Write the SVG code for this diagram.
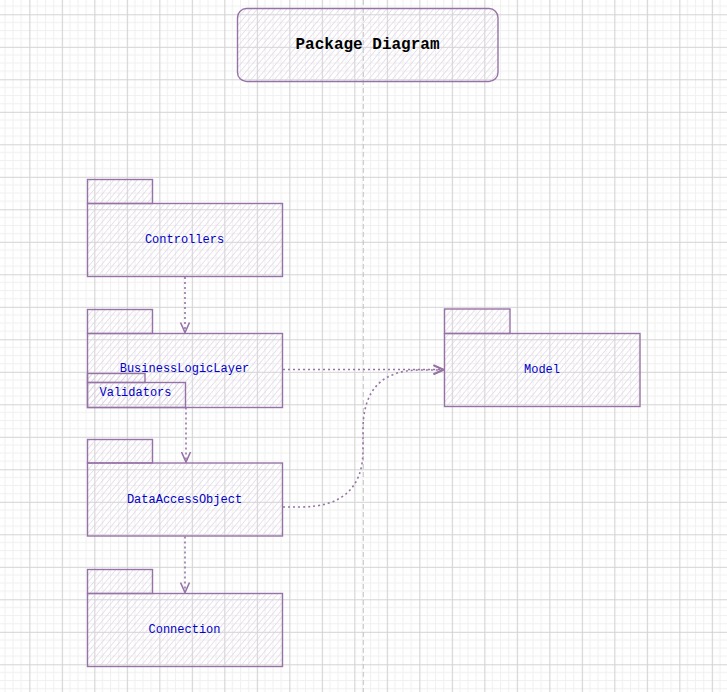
<svg xmlns="http://www.w3.org/2000/svg" width="727" height="692" viewBox="0 0 727 692">
<defs>
<pattern id="grid" patternUnits="userSpaceOnUse" x="29.3" y="14.3" width="32.5" height="32.5">
<path d="M8.125 0V32.5M16.25 0V32.5M24.375 0V32.5M0 8.125H32.5M0 16.25H32.5M0 24.375H32.5" stroke="#f0f0f0" stroke-width="1" fill="none"/>
<path d="M0.5 0V32.5M0 0.5H32.5" stroke="#d3d3d3" stroke-width="1.2" fill="none"/>
</pattern>
<pattern id="hatch" patternUnits="userSpaceOnUse" width="4.5" height="4.5" patternTransform="rotate(40)">
<line x1="0" y1="0" x2="0" y2="4.5" stroke="#dccfe3" stroke-width="1.2"/>
</pattern>
<marker id="arr" viewBox="0 0 12 12" refX="11" refY="6" markerWidth="12" markerHeight="12" markerUnits="userSpaceOnUse" orient="auto">
<path d="M1 1.5L11 6L1 10.5" fill="none" stroke="#9673a6" stroke-width="1.6"/>
</marker>
</defs>
<style>
.pk{fill:url(#hatch);stroke:#9673a6;stroke-width:1.4}
.lbl{font-family:"Liberation Mono","Courier New",monospace;font-size:12px;fill:#0000c8;text-anchor:middle;dominant-baseline:central}
.ttl{font-family:"Liberation Mono","Courier New",monospace;font-size:16px;font-weight:bold;fill:#000000;text-anchor:middle;dominant-baseline:central}
.cn{fill:none;stroke:#9673a6;stroke-width:1.6;stroke-dasharray:2 3}
</style>
<rect width="727" height="692" fill="#ffffff"/>
<rect width="727" height="692" fill="url(#grid)"/>
<line x1="363.3" y1="0" x2="363.3" y2="692" stroke="#c4c4c4" stroke-width="1" stroke-dasharray="5 3"/>

<g id="title">
<rect x="237.5" y="8.5" width="260.5" height="73" rx="9" class="pk" stroke-width="2"/>
<text x="367.5" y="44.5" class="ttl">Package Diagram</text>
</g>

<g id="controllers">
<rect x="87.5" y="179.5" width="65" height="24" class="pk"/>
<rect x="87.5" y="203.5" width="195" height="73" class="pk"/>
<text x="184.5" y="239.5" class="lbl">Controllers</text>
</g>

<g id="businesslogiclayer">
<rect x="87.5" y="309.5" width="65" height="24" class="pk"/>
<rect x="87.5" y="333.5" width="195" height="74" class="pk"/>
<text x="184.5" y="369" class="lbl">BusinessLogicLayer</text>
</g>

<g id="validators">
<rect x="87.5" y="373.5" width="57.5" height="9" class="pk"/>
<rect x="87.5" y="382.5" width="98" height="25" class="pk"/>
<text x="135.5" y="393" class="lbl">Validators</text>
</g>

<g id="dataaccessobject">
<rect x="87.5" y="439.5" width="65" height="23.5" class="pk"/>
<rect x="87.5" y="463" width="195" height="73" class="pk"/>
<text x="184.5" y="499.5" class="lbl">DataAccessObject</text>
</g>

<g id="connection">
<rect x="87.5" y="569.5" width="65" height="24" class="pk"/>
<rect x="87.5" y="593.5" width="195" height="73" class="pk"/>
<text x="184.5" y="629.5" class="lbl">Connection</text>
</g>

<g id="model">
<rect x="444.5" y="309" width="65.5" height="24.5" class="pk"/>
<rect x="444.5" y="333.5" width="195.5" height="73" class="pk"/>
<text x="542" y="369.5" class="lbl">Model</text>
</g>

<g id="connectors">
<path d="M185 277V332.5" class="cn" marker-end="url(#arr)"/>
<path d="M186 407.5V462" class="cn" marker-end="url(#arr)"/>
<path d="M185 536.5V592.5" class="cn" marker-end="url(#arr)"/>
<path d="M283 369.5H443.5" class="cn" marker-end="url(#arr)"/>
<path d="M283 507L300 507Q363 507 363 450L363 430Q363 370 420 370L443.5 370" class="cn" marker-end="url(#arr)"/>
</g>
</svg>
